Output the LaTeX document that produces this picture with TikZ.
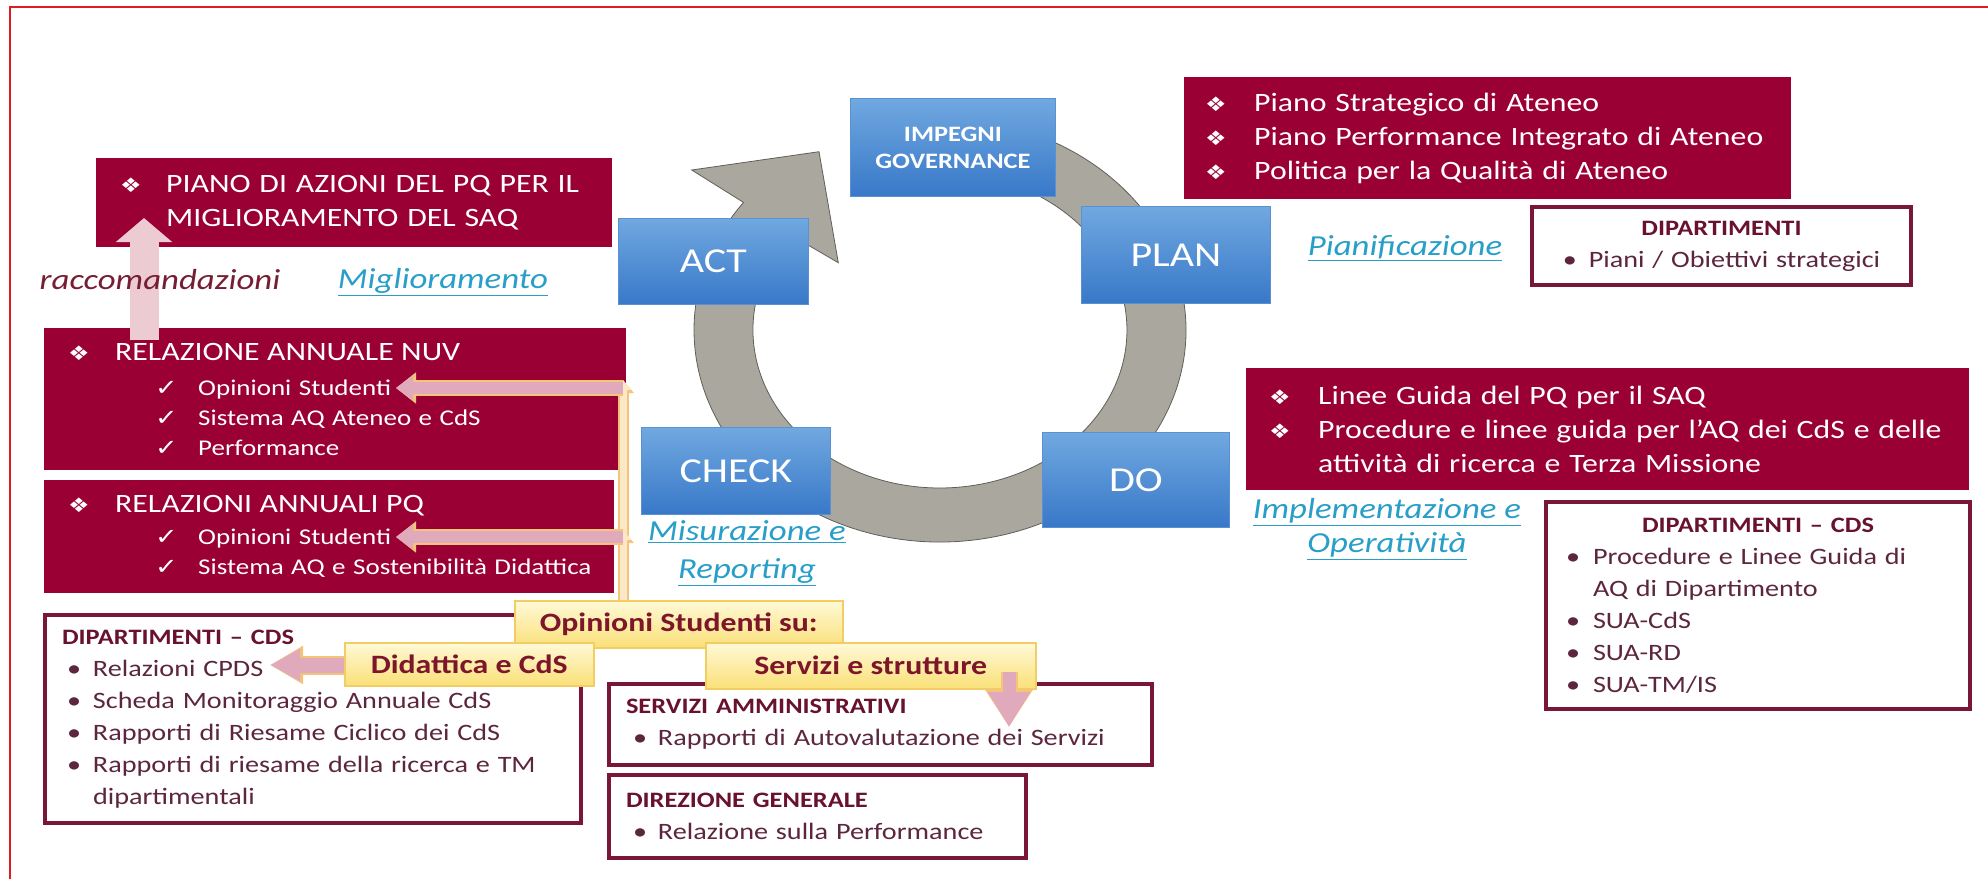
\documentclass[tikz,border=0pt]{standalone}
\usepackage{fontspec}
\setmainfont{Carlito}[FakeStretch=1.2]
\newfontfamily\SymFam{DejaVu Sans}[FakeStretch=1.2]
\usepackage{tikz}
\usetikzlibrary{arrows.meta}

\definecolor{Bordeaux}{RGB}{155,0,52}
\definecolor{BoxLine}{RGB}{122,22,56}
\definecolor{TitleRed}{RGB}{105,18,45}
\definecolor{ItemRed}{RGB}{92,38,62}
\definecolor{CycleTop}{RGB}{112,168,224}
\definecolor{CycleBottom}{RGB}{56,120,200}
\definecolor{CycleEdge}{RGB}{90,145,210}
\definecolor{RingGray}{RGB}{170,168,158}
\definecolor{RingEdge}{RGB}{95,95,90}
\definecolor{LinkTeal}{RGB}{40,158,200}
\definecolor{RaccRed}{RGB}{118,30,52}
\definecolor{NoteTop}{RGB}{255,249,215}
\definecolor{NoteBottom}{RGB}{250,224,120}
\definecolor{NoteEdge}{RGB}{242,205,100}
\definecolor{NoteText}{RGB}{125,22,42}
\definecolor{PinkPale}{RGB}{236,203,210}
\definecolor{ArrowPink}{RGB}{224,170,188}
\definecolor{ArrowGold}{RGB}{244,196,120}
\definecolor{BarCore}{RGB}{250,232,200}
\definecolor{FrameRed}{RGB}{222,28,36}

\newcommand\RedBoxFont{\fontsize{26.5}{34}\selectfont}
\newcommand\SubItemFont{\fontsize{22.5}{30}\selectfont}
\newcommand\CycleFont{\fontsize{35}{40}\selectfont}
\newcommand\GovFont{\fontsize{22}{27}\selectfont\bfseries}
\newcommand\LinkFont{\fontsize{29}{35}\selectfont\itshape}
\newcommand\OutTitleFont{\fontsize{22}{32}\selectfont\bfseries}
\newcommand\OutItemFont{\fontsize{23.5}{32}\selectfont}
\newcommand\NoteFont{\fontsize{26.5}{30}\selectfont\bfseries}
\newcommand\Dia{{\SymFam\fontsize{20}{20}\selectfont\char"2756}}
\newcommand\Chk{{\SymFam\char"2713}}

\begin{document}
\begin{tikzpicture}[x=1pt, y=-1pt,
  redbox/.style={fill=Bordeaux, text=white, align=left, anchor=north west, inner ysep=0pt, font=\RedBoxFont},
  cyclebox/.style={draw=CycleEdge, line width=0.8pt, top color=CycleTop, bottom color=CycleBottom, text=white, anchor=north west, inner sep=0pt, font=\CycleFont},
  outbox/.style={draw=BoxLine, line width=4pt, fill=white, text=ItemRed, align=left, anchor=north west, inner ysep=0pt, font=\OutItemFont},
  notebox/.style={draw=NoteEdge, line width=1.5pt, top color=NoteTop, bottom color=NoteBottom, text=NoteText, anchor=north west, inner sep=0pt, font=\NoteFont},
  link/.style={text=LinkTeal, font=\LinkFont, align=center},
  ring/.style={fill=RingGray, draw=RingEdge, line width=0.8pt},
  bigpink/.style={draw=PinkPale, line width=29pt, -{Triangle[width=55pt,length=24pt]}},
  pinkarrow/.style={draw=ArrowPink, line width=12pt, -{Triangle[width=24pt,length=17pt]},
    preaction={draw=ArrowGold, line width=16pt, -{Triangle[width=30pt,length=20pt]}}},
  pinkarrowB/.style={draw=ArrowPink, line width=15pt, -{Triangle[width=30pt,length=30pt]},
    preaction={draw=ArrowGold, line width=19pt, -{Triangle[width=36pt,length=33pt]}}},
  pinkdown/.style={draw=ArrowPink, line width=13pt, -{Triangle[width=40pt,length=35pt]},
    preaction={draw=ArrowGold, line width=17pt, -{Triangle[width=46pt,length=38pt]}}},
  goldbar/.style={draw=BarCore, line width=7pt, -{Triangle[width=16pt,length=10pt]},
    preaction={draw=ArrowGold, line width=11pt, -{Triangle[width=21pt,length=13pt]}}}]

\useasboundingbox (0,0) rectangle (1988,879);

% frame
\draw[FrameRed, line width=2.5pt] (10,879) -- (10,7) -- (1988,7);

% circular arrow
\def\ringX{940}
\def\ringY{330}
\filldraw[ring] (\ringX,\ringY) ++(262:246 and 212)
  arc[start angle=262, end angle=577, x radius=246, y radius=212]
  -- (691.7,170) -- (819,151.7) -- (838.3,262.7) -- (790.6,234.9)
  arc[start angle=217, end angle=-98, x radius=187, y radius=158] -- cycle;

% PDCA boxes
\node[cyclebox, minimum width=205pt, minimum height=98pt, font=\GovFont, align=center] (impegni) at (850,98) {IMPEGNI\\GOVERNANCE};
\node[cyclebox, minimum width=190pt, minimum height=86pt] (act) at (618,218) {ACT};
\node[cyclebox, minimum width=189pt, minimum height=97pt] (plan) at (1081,206) {PLAN};
\node[cyclebox, minimum width=189pt, minimum height=87pt] (check) at (641,427) {CHECK};
\node[cyclebox, minimum width=187pt, minimum height=95pt] (do) at (1042,432) {DO};

% bordeaux boxes
\node[redbox, minimum width=516pt, minimum height=89pt, inner xsep=24pt, text width=468pt] (piano) at (96,158)
  {\mbox{\makebox[46pt][l]{\Dia}PIANO DI AZIONI DEL PQ PER IL}\\
   \mbox{\hspace*{46pt}MIGLIORAMENTO DEL SAQ}};

\node[redbox, minimum width=582pt, minimum height=142pt, inner xsep=24pt, text width=534pt, font=\SubItemFont] (nuv) at (44,328)
  {\mbox{\RedBoxFont\makebox[47pt][l]{\Dia}RELAZIONE ANNUALE NUV}\\[5pt]
   \mbox{\hspace*{87pt}\makebox[43pt][l]{\Chk}Opinioni Studenti}\\
   \mbox{\hspace*{87pt}\makebox[43pt][l]{\Chk}Sistema AQ Ateneo e CdS}\\
   \mbox{\hspace*{87pt}\makebox[43pt][l]{\Chk}Performance}};

\node[redbox, minimum width=570pt, minimum height=113pt, inner xsep=24pt, text width=522pt, font=\SubItemFont] (pq) at (44,480)
  {\mbox{\RedBoxFont\makebox[47pt][l]{\Dia}RELAZIONI ANNUALI PQ}\\[2pt]
   \mbox{\hspace*{87pt}\makebox[43pt][l]{\Chk}Opinioni Studenti}\\
   \mbox{\hspace*{87pt}\makebox[43pt][l]{\Chk}Sistema AQ e Sostenibilità Didattica}};

\node[redbox, minimum width=607pt, minimum height=122pt, inner xsep=21pt, text width=565pt] (strat) at (1184,77)
  {\mbox{\makebox[49pt][l]{\Dia}Piano Strategico di Ateneo}\\
   \mbox{\makebox[49pt][l]{\Dia}Piano Performance Integrato di Ateneo}\\
   \mbox{\makebox[49pt][l]{\Dia}Politica per la Qualità di Ateneo}};

\node[redbox, minimum width=723pt, minimum height=122pt, inner xsep=23pt, text width=677pt] (linee) at (1246,368)
  {\mbox{\makebox[49pt][l]{\Dia}Linee Guida del PQ per il SAQ}\\
   \mbox{\makebox[49pt][l]{\Dia}Procedure e linee guida per l’AQ dei CdS e delle}\\
   \mbox{\hspace*{49pt}attività di ricerca e Terza Missione}};

% outlined boxes
\node[outbox, minimum width=379pt, minimum height=78pt, inner xsep=10pt, text width=359pt, align=center] (dipplan) at (1530,205)
  {{\OutTitleFont\color{TitleRed}DIPARTIMENTI}\\
   •\hspace{12pt}Piani / Obiettivi strategici};

\node[outbox, minimum width=424pt, minimum height=207pt, inner xsep=20pt, text width=384pt] (dipdo) at (1544,500)
  {\makebox[384pt]{\OutTitleFont\color{TitleRed}DIPARTIMENTI – CDS}\\
   \mbox{\makebox[27pt][l]{•}\makebox[352pt][s]{Procedure e Linee Guida di}}\\
   \mbox{\hspace*{27pt}AQ di Dipartimento}\\
   \mbox{\makebox[27pt][l]{•}SUA-CdS}\\
   \mbox{\makebox[27pt][l]{•}SUA-RD}\\
   \mbox{\makebox[27pt][l]{•}SUA-TM/IS}};

\node[outbox, minimum width=536pt, minimum height=208pt, inner xsep=17pt, text width=502pt] (dipcheck) at (43,613)
  {{\OutTitleFont\color{TitleRed}DIPARTIMENTI – CDS}\\
   \mbox{\hspace*{5pt}\makebox[26pt][l]{•}Relazioni CPDS}\\
   \mbox{\hspace*{5pt}\makebox[26pt][l]{•}Scheda Monitoraggio Annuale CdS}\\
   \mbox{\hspace*{5pt}\makebox[26pt][l]{•}Rapporti di Riesame Ciclico dei CdS}\\
   \mbox{\hspace*{5pt}\makebox[26pt][l]{•}\makebox[463pt][s]{Rapporti di riesame della ricerca e TM}}\\
   \mbox{\hspace*{31pt}dipartimentali}};

\node[outbox, minimum width=543pt, minimum height=81pt, inner xsep=17pt, text width=509pt] (servamm) at (607,682)
  {{\OutTitleFont\color{TitleRed}SERVIZI AMMINISTRATIVI}\\
   \mbox{\hspace*{7pt}\makebox[25pt][l]{•}Rapporti di Autovalutazione dei Servizi}};

\node[outbox, minimum width=417pt, minimum height=83pt, inner xsep=17pt, text width=383pt] (dirgen) at (607,773)
  {{\OutTitleFont\color{TitleRed}DIREZIONE GENERALE}\\
   \mbox{\hspace*{7pt}\makebox[25pt][l]{•}Relazione sulla Performance}};

% student opinions
\node[notebox, minimum width=328pt, minimum height=47pt] (opinioni) at (514,600) {Opinioni Studenti su:};
\node[notebox, minimum width=249pt, minimum height=43pt] (didattica) at (344,642) {Didattica e CdS};
\node[notebox, minimum width=330pt, minimum height=46pt] (servizi) at (705,642) {Servizi e strutture};

% phase labels
\node[link] (migl) at (443,282) {\underline{Miglioramento}};
\node[link] (pianif) at (1405,248) {\underline{Pianificazione}};
\node[link, font=\fontsize{29}{38}\selectfont\itshape] (misur) at (747,553) {\underline{Misurazione e}\\\underline{Reporting}};
\node[link, font=\fontsize{29}{34}\selectfont\itshape] (implem) at (1387,529) {\underline{Implementazione e}\\\underline{Operatività}};

% arrows
\coordinate (raccTip) at (144,218);
\draw[bigpink, shorten <=-12pt] (nuv.north -| raccTip) -- (raccTip);

\coordinate (barTop) at (623,380);
\coordinate (barMid) at (623,530);
\coordinate (nuvOpTip) at (396,388);
\coordinate (pqOpTip) at (396,537);
\draw[goldbar] (opinioni.north -| barTop) -- (barTop);
\draw[goldbar] (opinioni.north -| barMid) -- (barMid);
\draw[pinkarrow] (barTop |- nuvOpTip) -- (nuvOpTip);
\draw[pinkarrow] (barMid |- pqOpTip) -- (pqOpTip);

\coordinate (cpdsTip) at (270,665);
\draw[pinkarrowB] (didattica.west |- cpdsTip) -- (cpdsTip);

\coordinate (servTip) at (1009,727);
\draw[pinkdown, shorten <=-18pt] (servizi.south -| servTip) -- (servTip);

\node[font=\LinkFont, text=RaccRed] (racc) at (160,280) {raccomandazioni};

\end{tikzpicture}
\end{document}
